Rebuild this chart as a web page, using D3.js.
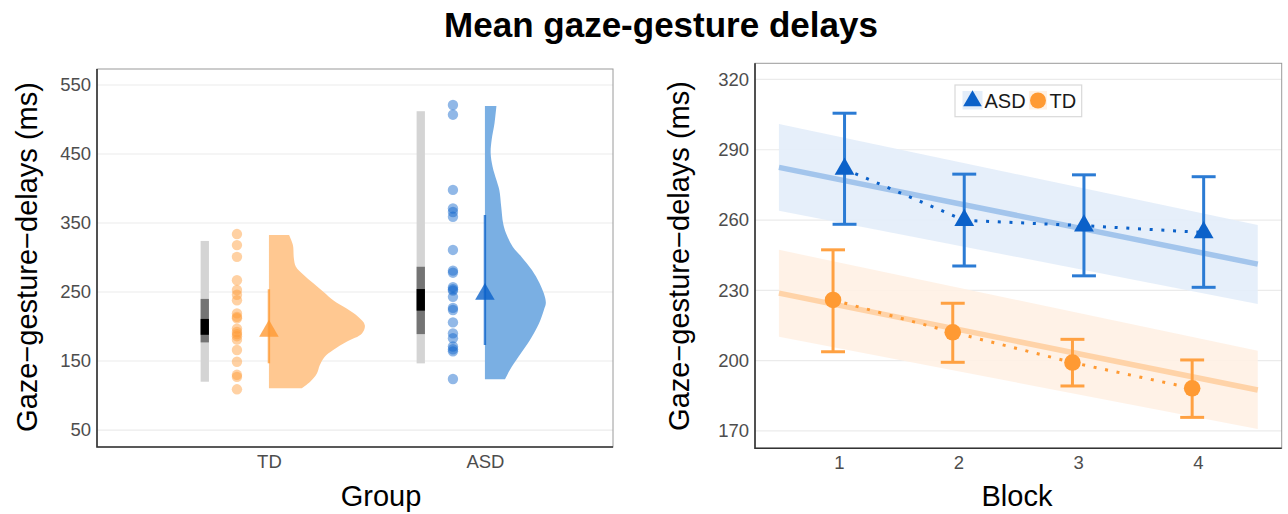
<!DOCTYPE html>
<html><head><meta charset="utf-8">
<script src="https://cdn.jsdelivr.net/npm/d3@7"></script>
<style>
body{margin:0;background:#fff;}
svg text{font-family:"Liberation Sans",Arial,sans-serif;}
</style></head>
<body><svg id="chart" width="1288" height="514"></svg>
<script>
// ---------- data: left panel (raincloud) ----------
const groups = ["TD", "ASD"];
const tdValues = [334, 318, 301, 267, 253, 246, 238, 219, 214, 212, 197, 192, 189, 186, 181, 166, 149, 130, 127, 109];
const asdValues = [521, 507, 398, 371, 366, 359, 311, 281, 278, 257, 254, 252, 243, 227, 224, 206, 190, 183, 171, 167, 164, 124];
const outerLow = [120, 146.6], outerHigh = [324, 512];
const midLow = [177, 189], midHigh = [240, 286.6];
const innerLow = [188, 223], innerHigh = [211, 254.3];
const groupMean = [193.3, 246.8], groupMeanLow = [146.7, 173.2], groupMeanHigh = [254, 361.6];
const tdViolinValue = [332.6, 318, 299, 287, 275, 263, 250, 238, 226, 214, 202, 190, 178, 166, 156, 144, 132, 120, 110.4];
const tdViolinDensity = [0.21, 0.25, 0.26, 0.28, 0.36, 0.46, 0.57, 0.67, 0.81, 0.93, 1.0, 0.97, 0.81, 0.67, 0.58, 0.53, 0.50, 0.43, 0.34];
const asdViolinValue = [519.6, 494.5, 470.3, 451, 431.6, 412.3, 397.8, 373.6, 349.5, 335, 315.7, 301.2, 281.9, 262.6, 243.2, 233.6, 223.9, 204.6, 180.4, 156.2, 137, 123.5];
const asdViolinDensity = [0.12, 0.10, 0.07, 0.06, 0.08, 0.12, 0.15, 0.17, 0.19, 0.22, 0.29, 0.38, 0.49, 0.57, 0.625, 0.635, 0.615, 0.565, 0.47, 0.35, 0.26, 0.21];
const leftTicks = [50, 150, 250, 350, 450, 550];

// ---------- data: right panel ----------
const blocks = [1, 2, 3, 4];
const asdMean = [281.8, 259.9, 257.6, 254.7], asdLow = [258.2, 240.4, 236.2, 231.3], asdHigh = [305.6, 279.6, 279.3, 278.5];
const tdMean = [225.9, 212.1, 199.2, 188.2], tdLow = [203.8, 199.3, 189.2, 175.8], tdHigh = [247.3, 224.5, 209.1, 200.3];
const fitX = [0.5, 4.5];
const asdFit = [282.5, 241.2], asdFitLow = [264, 224.2], asdFitHigh = [301, 257.9];
const tdFit = [228.8, 187.5], tdFitLow = [210.2, 170.8], tdFitHigh = [247.3, 204.2];
const rightTicks = [170, 200, 230, 260, 290, 320];

// ---------- styles ----------
const BLUE = "#0b61c9", BLUE_BAR = "#2b7bd4", ORANGE = "#ff9a33", ORANGE_BAR = "#ffa142";
const svg = d3.select("#chart");
const yLabel = "Gaze\u2212gesture\u2212delays (ms)";

svg.append("text").attr("x", 661).attr("y", 37).attr("text-anchor", "middle")
  .attr("font-size", 35).attr("font-weight", "bold").attr("fill", "#000").text("Mean gaze-gesture delays");

// ================= LEFT PANEL =================
const L = {x0: 97, x1: 613, y0: 69, y1: 447};
const xL = d3.scaleLinear().domain([0.204, 2.593]).range([L.x0, L.x1]);
const yL = d3.scaleLinear().domain([25.4, 573.2]).range([L.y1, L.y0]);
const gL = svg.append("g");
gL.append("rect").attr("x", L.x0).attr("y", L.y0).attr("width", L.x1 - L.x0).attr("height", L.y1 - L.y0).attr("fill", "#fff");
gL.selectAll("line.grid").data(leftTicks).join("line").attr("class", "grid")
  .attr("x1", L.x0).attr("x2", L.x1).attr("y1", d => yL(d)).attr("y2", d => yL(d))
  .attr("stroke", "#ebebeb").attr("stroke-width", 1.2);
const axL = d3.axisLeft(yL).tickValues(leftTicks).tickSize(0).tickPadding(6);
const gAxL = gL.append("g").attr("transform", `translate(${L.x0},0)`).call(axL);
gAxL.select(".domain").remove();
gAxL.selectAll("text").attr("font-size", 18.5).attr("fill", "#4d4d4d").attr("font-family", '"Liberation Sans",Arial,sans-serif');
const axLB = d3.axisBottom(xL).tickValues([1, 2]).tickFormat((d, i) => groups[i]).tickSize(0).tickPadding(8);
const gAxLB = gL.append("g").attr("transform", `translate(0,${L.y1})`).call(axLB);
gAxLB.select(".domain").remove();
gAxLB.selectAll("text").attr("font-size", 18.5).attr("fill", "#4d4d4d").attr("font-family", '"Liberation Sans",Arial,sans-serif');

const wScale = d3.scaleLinear().domain([0, 1]).range([0, xL(1.444) - xL(1)]);
const groupColors = [ORANGE, BLUE];
const violinFill = ["#ffc891", "#7aafe3"];
const violins = [
  d3.zip(tdViolinValue, tdViolinDensity),
  d3.zip(asdViolinValue, asdViolinDensity)
];
groups.forEach((g, i) => {
  const gx = i + 1;
  const bw = 8.3, bx = xL(gx - 0.297) - bw / 2;
  gL.append("rect").attr("x", bx).attr("width", bw).attr("y", yL(outerHigh[i])).attr("height", yL(outerLow[i]) - yL(outerHigh[i])).attr("fill", "#d4d4d4");
  gL.append("rect").attr("x", bx).attr("width", bw).attr("y", yL(midHigh[i])).attr("height", yL(midLow[i]) - yL(midHigh[i])).attr("fill", "#747474");
  gL.append("rect").attr("x", bx).attr("width", bw).attr("y", yL(innerHigh[i])).attr("height", yL(innerLow[i]) - yL(innerHigh[i])).attr("fill", "#000");
  const vals = i === 0 ? tdValues : asdValues;
  gL.selectAll(null).data(vals).join("circle")
    .attr("cx", xL(gx - 0.148)).attr("cy", d => yL(d)).attr("r", 5.2)
    .attr("fill", groupColors[i]).attr("fill-opacity", 0.45);
  const area = d3.area().curve(d3.curveCatmullRom)
    .y(d => yL(d[0])).x0(xL(gx)).x1(d => xL(gx) + wScale(d[1]));
  gL.append("path").datum(violins[i]).attr("d", area).attr("fill", violinFill[i]);
  gL.append("line").attr("x1", xL(gx)).attr("x2", xL(gx)).attr("y1", yL(groupMeanLow[i])).attr("y2", yL(groupMeanHigh[i]))
    .attr("stroke", groupColors[i]).attr("stroke-opacity", 0.75).attr("stroke-width", 2.4);
  gL.append("path").attr("d", d3.symbol(d3.symbolTriangle, 165)())
    .attr("transform", `translate(${xL(gx)},${yL(groupMean[i])})`)
    .attr("fill", groupColors[i]).attr("fill-opacity", 0.8);
});
gL.append("rect").attr("x", L.x0).attr("y", L.y0).attr("width", L.x1 - L.x0).attr("height", L.y1 - L.y0)
  .attr("fill", "none").attr("stroke", "#9a9a9a").attr("stroke-width", 1);
gL.append("path").attr("d", `M${L.x0},${L.y0}V${L.y1}H${L.x1}`).attr("fill", "none").attr("stroke", "#333").attr("stroke-width", 1.6);
svg.append("text").attr("transform", `translate(37,257) rotate(-90)`).attr("text-anchor", "middle")
  .attr("font-size", 29).attr("fill", "#000").text(yLabel);
svg.append("text").attr("x", 381).attr("y", 506).attr("text-anchor", "middle").attr("font-size", 29).attr("fill", "#000").text("Group");

// ================= RIGHT PANEL =================
const R = {x0: 755, x1: 1281.7, y0: 63.3, y1: 448.3};
const xR = d3.scaleLinear().domain([0.3, 4.7]).range([R.x0, R.x1]);
const yR = d3.scaleLinear().domain([162.6, 326.9]).range([R.y1, R.y0]);
const gR = svg.append("g");
gR.selectAll("line.grid").data(rightTicks).join("line").attr("class", "grid")
  .attr("x1", R.x0).attr("x2", R.x1).attr("y1", d => yR(d)).attr("y2", d => yR(d))
  .attr("stroke", "#ebebeb").attr("stroke-width", 1.2);
const axR = d3.axisLeft(yR).tickValues(rightTicks).tickSize(0).tickPadding(6);
const gAxR = gR.append("g").attr("transform", `translate(${R.x0},0)`).call(axR);
gAxR.select(".domain").remove();
gAxR.selectAll("text").attr("font-size", 18.5).attr("fill", "#4d4d4d").attr("font-family", '"Liberation Sans",Arial,sans-serif');
const axRB = d3.axisBottom(xR).tickValues(blocks).tickFormat(d3.format("d")).tickSize(0).tickPadding(8);
const gAxRB = gR.append("g").attr("transform", `translate(0,${R.y1})`).call(axRB);
gAxRB.select(".domain").remove();
gAxRB.selectAll("text").attr("font-size", 18.5).attr("fill", "#4d4d4d").attr("font-family", '"Liberation Sans",Arial,sans-serif');

const fits = [
  {low: asdFitLow, high: asdFitHigh, fit: asdFit, ribbon: "#e3edf9", line: "#a3c5ec"},
  {low: tdFitLow, high: tdFitHigh, fit: tdFit, ribbon: "#fff1e4", line: "#ffd3a8"}
];
fits.forEach(f => {
  const rib = d3.area().x(d => xR(d[0])).y0(d => yR(d[1])).y1(d => yR(d[2]));
  gR.append("path").datum(d3.zip(fitX, f.low, f.high)).attr("d", rib).attr("fill", f.ribbon).attr("fill-opacity", 0.9);
});
fits.forEach(f => {
  const ln = d3.line().x(d => xR(d[0])).y(d => yR(d[1]));
  gR.append("path").datum(d3.zip(fitX, f.fit)).attr("d", ln).attr("fill", "none").attr("stroke", f.line).attr("stroke-width", 5.5);
});
const series = [
  {name: "ASD", mean: asdMean, low: asdLow, high: asdHigh, dx: 0.048, col: BLUE, bar: BLUE_BAR, shape: "tri"},
  {name: "TD", mean: tdMean, low: tdLow, high: tdHigh, dx: -0.048, col: ORANGE, bar: ORANGE_BAR, shape: "circ"}
];
const capHalf = xR(1.1) - xR(1);
series.forEach(s => {
  const pts = blocks.map((b, i) => ({x: b + s.dx, m: s.mean[i], lo: s.low[i], hi: s.high[i]}));
  const ln = d3.line().x(d => xR(d.x)).y(d => yR(d.m));
  gR.append("path").datum(pts).attr("d", ln).attr("fill", "none").attr("stroke", s.col)
    .attr("stroke-width", 3).attr("stroke-dasharray", "3,8.7");
  const eb = gR.append("g").attr("stroke", s.bar).attr("stroke-width", 3).attr("fill", "none");
  pts.forEach(p => {
    const cx = xR(p.x);
    eb.append("line").attr("x1", cx).attr("x2", cx).attr("y1", yR(p.lo)).attr("y2", yR(p.hi));
    eb.append("line").attr("x1", cx - capHalf).attr("x2", cx + capHalf).attr("y1", yR(p.lo)).attr("y2", yR(p.lo));
    eb.append("line").attr("x1", cx - capHalf).attr("x2", cx + capHalf).attr("y1", yR(p.hi)).attr("y2", yR(p.hi));
  });
  pts.forEach(p => {
    if (s.shape === "tri") {
      gR.append("path").attr("d", d3.symbol(d3.symbolTriangle, 170)())
        .attr("transform", `translate(${xR(p.x)},${yR(p.m)})`).attr("fill", s.col);
    } else {
      gR.append("circle").attr("cx", xR(p.x)).attr("cy", yR(p.m)).attr("r", 8.3).attr("fill", s.col);
    }
  });
});
// legend
const lg = gR.append("g");
lg.append("rect").attr("x", 955).attr("y", 85).attr("width", 126.7).attr("height", 31.7)
  .attr("fill", "#fff").attr("stroke", "#d9d9d9").attr("stroke-width", 1.2);
lg.append("rect").attr("x", 962.5).attr("y", 91).attr("width", 20).attr("height", 18.5).attr("fill", "#e3edf9");
lg.append("path").attr("d", d3.symbol(d3.symbolTriangle, 150)()).attr("transform", "translate(972.5,101)").attr("fill", BLUE);
lg.append("text").attr("x", 984.5).attr("y", 108.3).attr("font-size", 20).attr("fill", "#1a1a1a").text(series[0].name);
lg.append("rect").attr("x", 1029).attr("y", 91).attr("width", 18).attr("height", 18.5).attr("fill", "#fff1e4");
lg.append("circle").attr("cx", 1038).attr("cy", 100.5).attr("r", 8).attr("fill", ORANGE);
lg.append("text").attr("x", 1049.5).attr("y", 108.3).attr("font-size", 20).attr("fill", "#1a1a1a").text(series[1].name);

gR.append("rect").attr("x", R.x0).attr("y", R.y0).attr("width", R.x1 - R.x0).attr("height", R.y1 - R.y0)
  .attr("fill", "none").attr("stroke", "#9a9a9a").attr("stroke-width", 1);
gR.append("path").attr("d", `M${R.x0},${R.y0}V${R.y1}H${R.x1}`).attr("fill", "none").attr("stroke", "#333").attr("stroke-width", 1.6);
svg.append("text").attr("transform", `translate(689,256) rotate(-90)`).attr("text-anchor", "middle")
  .attr("font-size", 29).attr("fill", "#000").text(yLabel);
svg.append("text").attr("x", 1017).attr("y", 506).attr("text-anchor", "middle").attr("font-size", 29).attr("fill", "#000").text("Block");
</script>
</body></html>
